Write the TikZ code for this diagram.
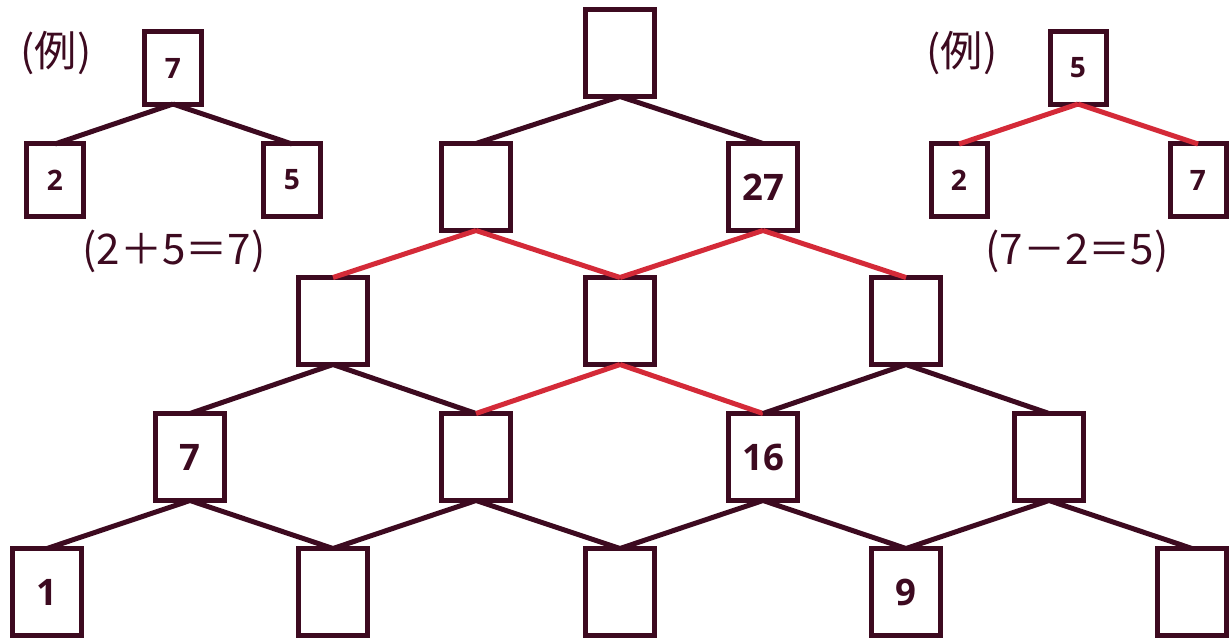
\documentclass[tikz,border=0pt]{standalone}
\usepackage{fontspec}
\setmainfont{Open Sans}
\newfontfamily\jpfont{Noto Sans CJK JP}
\definecolor{ink}{HTML}{3D0A20}
\definecolor{hot}{HTML}{D42A38}
\begin{document}
\begin{tikzpicture}[x=0.025cm,y=-0.025cm,
        box/.style={draw=ink,line width=0.125cm,minimum width=1.725cm,minimum height=2.175cm,inner sep=0pt,outer sep=0pt,text=ink,font=\bfseries\fontsize{26}{26}\selectfont},
        smallbox/.style={draw=ink,line width=0.125cm,minimum width=1.4cm,minimum height=1.8cm,inner sep=0pt,outer sep=0pt,text=ink,font=\bfseries\fontsize{20}{20}\selectfont},
        edge/.style={draw=ink,line width=0.125cm},
        hotedge/.style={draw=hot,line width=0.125cm},
        note/.style={text=ink,inner sep=0pt,font=\jpfont\fontsize{30}{30}\selectfont}]
            \useasboundingbox (0,0) rectangle (1229,638);

            \node[box] (a) at (620,53) {};
            \node[box] (ba) at (476,187) {};
            \node[box] (bb) at (763,187) {27};
            \node[box] (ca) at (333,321) {};
            \node[box] (cb) at (620,321) {};
            \node[box] (cc) at (906,321) {};
            \node[box] (da) at (190,457) {7};
            \node[box] (db) at (476,457) {};
            \node[box] (dc) at (763,457) {16};
            \node[box] (dd) at (1049,457) {};
            \node[box] (ea) at (47,592) {1};
            \node[box] (eb) at (333,592) {};
            \node[box] (ec) at (620,592) {};
            \node[box] (ed) at (906,592) {9};
            \node[box] (ee) at (1192,592) {};

            \node[smallbox] (sumtop) at (173,68) {7};
            \node[smallbox] (sumleft) at (55,180) {2};
            \node[smallbox] (sumright) at (292,180) {5};
            \node[smallbox] (subtop) at (1078,68) {5};
            \node[smallbox] (subleft) at (959,180) {2};
            \node[smallbox] (subright) at (1198,180) {7};

            \node[note] (sumlabel) at (56,53) {(例)};
            \node[note] (sumrule) at (174,251) {(2＋5＝7)};
            \node[note] (sublabel) at (962,53) {(例)};
            \node[note] (subrule) at (1077,251) {(7－2＝5)};

            \draw[edge] (a.south) to (ba.north);
            \draw[edge] (a.south) to (bb.north);
            \draw[hotedge] (ba.south) to (ca.north);
            \draw[hotedge] (ba.south) to (cb.north);
            \draw[hotedge] (bb.south) to (cb.north);
            \draw[hotedge] (bb.south) to (cc.north);
            \draw[edge] (ca.south) to (da.north);
            \draw[edge] (ca.south) to (db.north);
            \draw[hotedge] (cb.south) to (db.north);
            \draw[hotedge] (cb.south) to (dc.north);
            \draw[edge] (cc.south) to (dc.north);
            \draw[edge] (cc.south) to (dd.north);
            \draw[edge] (da.south) to (ea.north);
            \draw[edge] (da.south) to (eb.north);
            \draw[edge] (db.south) to (eb.north);
            \draw[edge] (db.south) to (ec.north);
            \draw[edge] (dc.south) to (ec.north);
            \draw[edge] (dc.south) to (ed.north);
            \draw[edge] (dd.south) to (ed.north);
            \draw[edge] (dd.south) to (ee.north);

            \draw[edge] (sumtop.south) to (sumleft.north);
            \draw[edge] (sumtop.south) to (sumright.north);
            \draw[hotedge] (subtop.south) to (subleft.north);
            \draw[hotedge] (subtop.south) to (subright.north);
        \end{tikzpicture}
\end{document}
